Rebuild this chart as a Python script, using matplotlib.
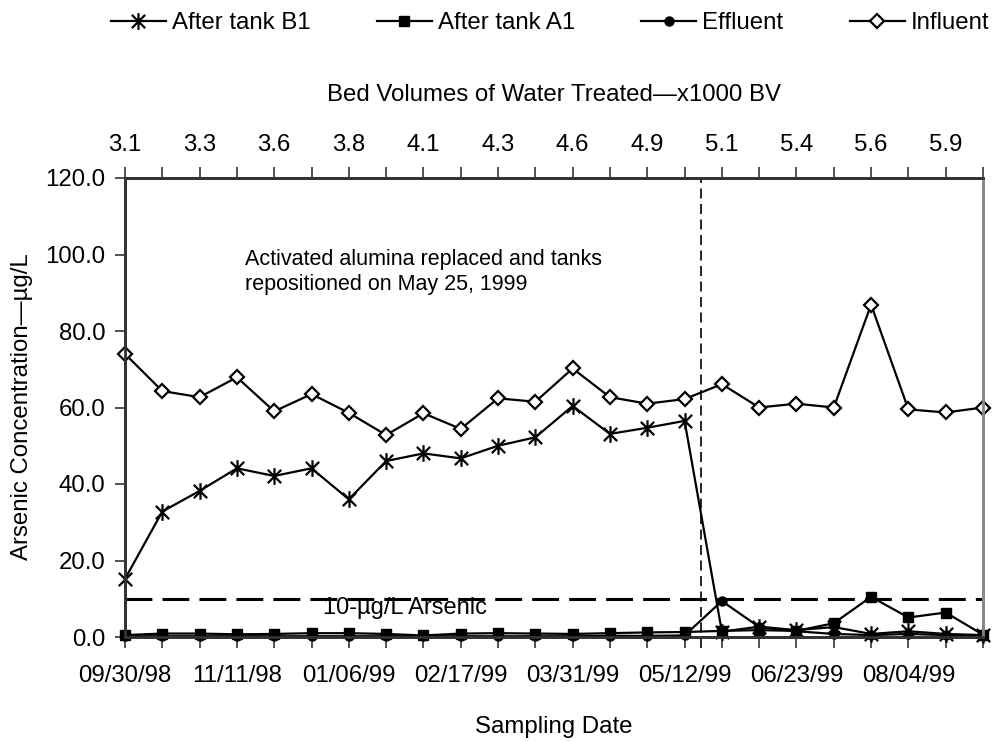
#!/usr/bin/env python3

import numpy as np
import matplotlib
matplotlib.use("Agg")
import matplotlib.pyplot as plt
from matplotlib.path import Path

# sampling points (24, evenly spaced on a category axis)
bottom_labels = ["09/30/98", "11/11/98", "01/06/99", "02/17/99",
                 "03/31/99", "05/12/99", "06/23/99", "08/04/99"]
top_labels = ["3.1", "3.3", "3.6", "3.8", "4.1", "4.3",
              "4.6", "4.9", "5.1", "5.4", "5.6", "5.9"]

after_b1 = [15.2, 32.8, 38.2, 44.1, 42.1, 44.1, 36.0, 46.0, 48.0, 46.7, 50.0, 52.2,
            60.4, 53.1, 54.7, 56.5, 1.4, 2.7, 1.8, 2.6, 0.8, 1.5, 0.8, 0.5]
after_a1 = [0.5, 0.9, 0.9, 0.7, 0.8, 1.0, 1.0, 0.8, 0.4, 0.9, 1.0, 0.9,
            0.8, 1.0, 1.2, 1.3, 1.6, 1.8, 1.6, 3.6, 10.5, 5.1, 6.4, 0.6]
effluent = [0.2, 0.2, 0.2, 0.2, 0.2, 0.2, 0.2, 0.2, 0.2, 0.2, 0.2, 0.2,
            0.2, 0.3, 0.3, 0.4, 9.4, 2.6, 1.5, 0.8, 0.5, 0.8, 0.5, 0.3]
influent = [74.0, 64.3, 62.7, 67.9, 59.0, 63.5, 58.6, 52.8, 58.5, 54.4, 62.4, 61.5,
            70.2, 62.7, 61.0, 62.2, 66.1, 60.0, 61.0, 60.0, 86.9, 59.5, 58.7, 60.0]

mcl = 10.0            # 10 ug/L arsenic limit
replacement_x = 15.45  # May 25, 1999 on the category axis

plt.rcParams["font.family"] = ["Liberation Sans", "DejaVu Sans"]
FS = 17.3

# Excel-like star marker: X plus vertical bar
star = Path([(-1, -1), (1, 1), (-1, 1), (1, -1), (0, -1.25), (0, 1.25)],
            [Path.MOVETO, Path.LINETO, Path.MOVETO, Path.LINETO, Path.MOVETO, Path.LINETO])

fig = plt.figure(figsize=(9.95, 7.41), dpi=100)
ax = fig.add_axes([125 / 995, 1 - 637 / 741, 858 / 995, 459 / 741])

x = np.arange(len(influent))
common = dict(color="black", lw=1.6, clip_on=False)
ax.plot(x, influent, marker="D", ms=7, mfc="white", mec="black", mew=1.6,
        label="Influent", zorder=3, **common)
ax.plot(x, effluent, marker="o", ms=6.5, mfc="black", mec="black",
        label="Effluent", zorder=4, **common)
ax.plot(x, after_a1, marker="s", ms=7.5, mfc="black", mec="black",
        label="After tank A1", zorder=5, **common)
ax.plot(x, after_b1, marker=star, ms=12, mfc="none", mec="black", mew=1.6,
        label="After tank B1", zorder=6, **common)

ax.axhline(mcl, color="black", lw=2.2, linestyle=(0, (8.8, 3.3)), zorder=2)
ax.axvline(replacement_x, ymin=-0.024, ymax=1, color="black", lw=1.2,
           linestyle=(0, (6, 3.3)), clip_on=False, zorder=2)

ax.text(3.22, 95.3, "Activated alumina replaced and tanks\nrepositioned on May 25, 1999",
        fontsize=15.5, ha="left", va="center", linespacing=1.25)
ax.text(5.31, 7.6, "10-µg/L Arsenic", fontsize=17, ha="left", va="center")

ax.set_xlim(0, len(influent) - 1)
ax.set_ylim(0, 120)
ax.set_yticks(np.arange(0, 121, 20))
ax.set_yticklabels([f"{v:.1f}" for v in np.arange(0, 121, 20)])

ax.set_xticks(x)
bl = [""] * len(x)
for i, lab in enumerate(bottom_labels):
    bl[i * 3] = lab
ax.set_xticklabels(bl)
ax.tick_params(axis="x", direction="out", length=8, width=1.2, pad=12,
               labelsize=FS, colors="#333333", labelcolor="black")
ax.tick_params(axis="y", direction="out", length=7, width=1.2, pad=7,
               labelsize=FS, colors="#333333", labelcolor="black")

top = ax.twiny()
top.set_xlim(ax.get_xlim())
top.set_xticks(x)
tl = [""] * len(x)
for i, lab in enumerate(top_labels):
    tl[i * 2] = lab
top.set_xticklabels(tl)
top.tick_params(axis="x", direction="out", length=8, width=1.2, pad=7.5,
                labelsize=FS, colors="#333333", labelcolor="black")

for a in (ax, top):
    for side in ("left", "top", "bottom"):
        a.spines[side].set_color("#333333")
        a.spines[side].set_linewidth(2)
    a.spines["right"].set_color("#888888")
    a.spines["right"].set_linewidth(2)

fig.text(554 / 995, 1 - 95 / 741, "Bed Volumes of Water Treated—x1000 BV",
         fontsize=FS, ha="center", va="center")
fig.text(554 / 995, 1 - 727 / 741, "Sampling Date", fontsize=FS, ha="center", va="center")
fig.text(22 / 995, 1 - 407 / 741, "Arsenic Concentration—µg/L", fontsize=FS,
         ha="center", va="center", rotation=90)

handles, labels = ax.get_legend_handles_labels()
order = [3, 2, 1, 0]
fig.legend([handles[i] for i in order], [labels[i] for i in order],
           loc="center", bbox_to_anchor=(550 / 995, 1 - 23 / 741), ncol=4,
           frameon=False, fontsize=FS, handlelength=2.3, handletextpad=0.25,
           columnspacing=2.75, borderaxespad=0)

fig.savefig("out.png", dpi=100)
